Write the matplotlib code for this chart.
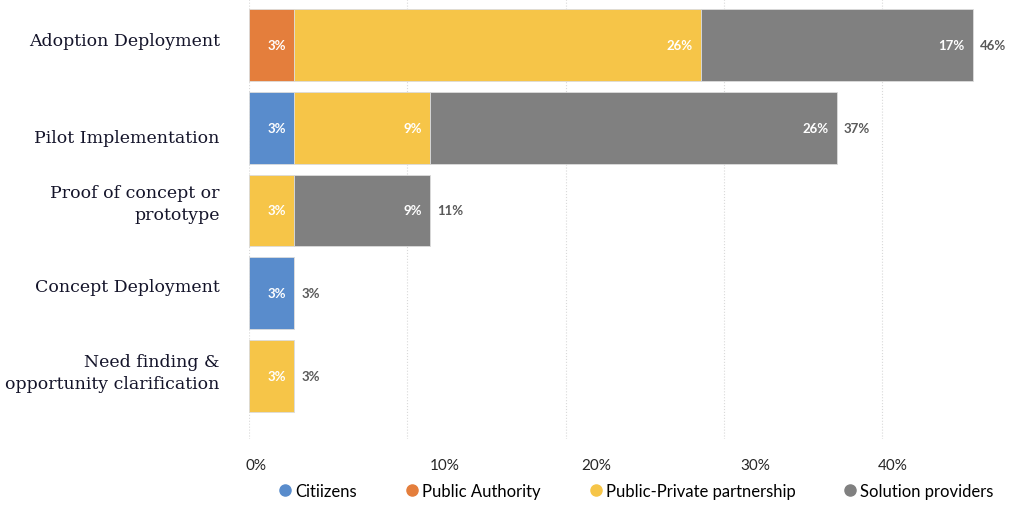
import matplotlib
matplotlib.use("Agg")
from matplotlib import pyplot as plt
from matplotlib.lines import Line2D
from matplotlib.transforms import ScaledTranslation

# stages, top to bottom
stages = ['Adoption Deployment', 'Pilot Implementation',
          'Proof of concept or\nprototype', 'Concept Deployment',
          'Need finding &\nopportunity clarification']

# share of projects (%) per stakeholder type
citizens = [0.0, 2.86, 0.0, 2.86, 0.0]
public_authority = [2.86, 0.0, 0.0, 0.0, 0.0]
public_private = [25.71, 8.57, 2.86, 0.0, 2.86]
solution_providers = [17.14, 25.71, 8.57, 0.0, 0.0]

series_names = ['Citiizens', 'Public Authority',
                'Public-Private partnership', 'Solution providers']
series = [citizens, public_authority, public_private, solution_providers]
colors = ['#598CCC', '#E47E3C', '#F6C548', '#808080']

x_ticks = [0, 10, 20, 30, 40]
x_tick_labels = ['0%', '10%', '20%', '30%', '40%']

# label nudges (pixels) to follow the original image
x_label_shift = [7, 37, 31, 31, 11]
y_label_shift = [-6, 8, -11, -9, -8]

fig = plt.figure(figsize=(10.15, 5.06), dpi=100)
ax = fig.add_axes([249 / 1015, 1 - 440 / 506, 760 / 1015, 440 / 506])

ypos = list(range(len(stages)))
left = [0.0] * len(stages)
containers = []
for name, vals, col in zip(series_names, series, colors):
    c = ax.barh(ypos, vals, left=left, height=0.87, color=col,
                edgecolor='#dcdcdc', linewidth=0.6, label=name, zorder=3)
    containers.append((c, vals))
    left = [l + v for l, v in zip(left, vals)]

for c, vals in containers:
    labs = ['%d%%' % round(v) if v > 0 else '' for v in vals]
    anns = ax.bar_label(c, labels=labs, label_type='edge', padding=-6,
                        color='white', fontsize=9.5, fontweight='bold',
                        family='Lato', zorder=4)
    for a in anns:
        a.set_ha('right')

totals = ['%d%%' % round(t) for t in left]
ax.bar_label(containers[-1][0], labels=totals, label_type='edge', padding=5,
             color='#595959', fontsize=9.5, fontweight='bold', family='Lato')

ax.set_xlim(0, 760 / 15.83)
ax.set_ylim(4 + 63 / 82.75, -46 / 82.75)

ax.set_xticks(x_ticks)
ax.set_xticklabels(x_tick_labels, fontsize=11, family='Lato', color='#262626')
ax.set_yticks(ypos)
ax.set_yticklabels(stages, fontsize=12.5, family='DejaVu Serif',
                   color='#14142a', linespacing=1.35)
ax.tick_params(axis='both', length=0)
ax.tick_params(axis='x', pad=14)
ax.tick_params(axis='y', pad=21)

for lab, dx in zip(ax.get_xticklabels(), x_label_shift):
    lab.set_transform(lab.get_transform() +
                      ScaledTranslation(dx / 100, 0, fig.dpi_scale_trans))
for lab, dy in zip(ax.get_yticklabels(), y_label_shift):
    lab.set_transform(lab.get_transform() +
                      ScaledTranslation(0, -dy / 100, fig.dpi_scale_trans))

ax.xaxis.grid(True, linestyle=':', color='#d9d9d9', linewidth=0.8, zorder=0)
for s in ax.spines.values():
    s.set_visible(False)

handles = [Line2D([], [], marker='o', linestyle='', markersize=8,
                  markerfacecolor=col, markeredgecolor=col) for col in colors]
fig.legend(handles, series_names, loc='center left',
           bbox_to_anchor=(262 / 1015, 1 - 492 / 506), ncol=4, frameon=False,
           handletextpad=0.1, columnspacing=2.8, handlelength=1.0,
           prop={'family': 'Lato', 'size': 12})

fig.savefig('out.png', dpi=100)
